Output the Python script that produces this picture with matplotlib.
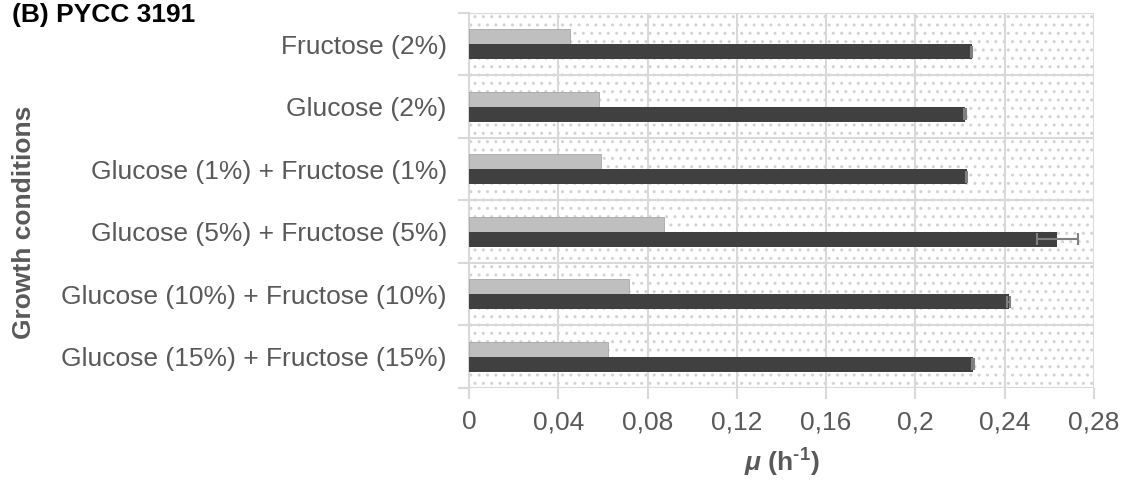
import matplotlib
matplotlib.use("Agg")
import matplotlib.pyplot as plt
import numpy as np
from matplotlib.patches import Rectangle

plt.rcParams["font.family"] = ["Liberation Sans", "DejaVu Sans"]
plt.rcParams["hatch.linewidth"] = 1.0
plt.rcParams["mathtext.fontset"] = "custom"
plt.rcParams["mathtext.rm"] = "Liberation Sans:bold"
plt.rcParams["mathtext.bf"] = "Liberation Sans:bold"
plt.rcParams["mathtext.it"] = "Liberation Sans:bold:italic"

conditions = [
    "Fructose (2%)",
    "Glucose (2%)",
    "Glucose (1%) + Fructose (1%)",
    "Glucose (5%) + Fructose (5%)",
    "Glucose (10%) + Fructose (10%)",
    "Glucose (15%) + Fructose (15%)",
]
mu_light = [0.0454, 0.0584, 0.0592, 0.0876, 0.0715, 0.0622]
mu_dark = [0.2253, 0.2222, 0.2230, 0.2636, 0.2418, 0.2258]
err_dark = [0.0003, 0.0003, 0.0003, 0.0091, 0.0008, 0.0003]
xticks = [0, 0.04, 0.08, 0.12, 0.16, 0.2, 0.24, 0.28]
xtick_labels = ["0", "0,04", "0,08", "0,12", "0,16", "0,2", "0,24", "0,28"]

text_grey = "#595959"
grid_grey = "#d9d9d9"
fs = 19

fig = plt.figure(figsize=(11.26, 4.8), dpi=100)
ax = fig.add_axes([0.4165, 0.192, 0.555, 0.781])

# dotted plot-area fill
ax.add_patch(Rectangle((0, 0), 1, 1, transform=ax.transAxes, facecolor="white",
                       edgecolor="#d3d3d3", hatch="..", linewidth=0, zorder=0))

y = np.arange(len(conditions))
h = 0.24
ax.barh(y - h / 2, mu_light, height=h, color="#bfbfbf", edgecolor="#a6a6a6",
        linewidth=0.6, zorder=3)
ax.barh(y + h / 2, mu_dark, height=h, color="#404040", zorder=3)
ax.errorbar(mu_dark, y + h / 2, xerr=err_dark, fmt="none", ecolor="#808080",
            elinewidth=1.5, capsize=4.5, capthick=1.5, zorder=4)

ax.set_xlim(0, 0.28)
ax.set_ylim(len(conditions) - 0.5, -0.5)

ax.set_xticks(xticks)
ax.set_xticklabels(xtick_labels)
ax.set_yticks(y)
ax.set_yticklabels(conditions)
ax.set_yticks(np.arange(-0.5, len(conditions)), minor=True)

ax.tick_params(axis="y", which="major", length=0, pad=16, labelsize=fs,
               labelcolor=text_grey)
ax.tick_params(axis="y", which="minor", length=8, color=grid_grey, width=1.5)
ax.tick_params(axis="x", length=8, color=grid_grey, width=1.5, pad=8,
               labelsize=fs, labelcolor=text_grey)

ax.grid(axis="x", color=grid_grey, linewidth=1.5, zorder=1)
ax.grid(axis="y", which="minor", color=grid_grey, linewidth=1.5, zorder=1)
ax.set_axisbelow(True)
for side in ["top", "right", "bottom"]:
    ax.spines[side].set_visible(False)
ax.spines["left"].set_color(grid_grey)
ax.spines["left"].set_linewidth(1.5)

ax.set_xlabel(r"$\mathit{\mu}$ (h$^{\text{-1}}$)", fontsize=fs,
              fontweight="bold", color=text_grey, labelpad=9)

fig.text(24 / 1126, 1 - 222 / 480, "Growth conditions", rotation=90,
         fontsize=fs, fontweight="bold", color=text_grey,
         ha="center", va="center")
fig.text(12 / 1126, 1 - 3 / 480, "(B) PYCC 3191", fontsize=fs,
         fontweight="bold", color="black", va="top", ha="left")

fig.savefig("out.png", dpi=100)
